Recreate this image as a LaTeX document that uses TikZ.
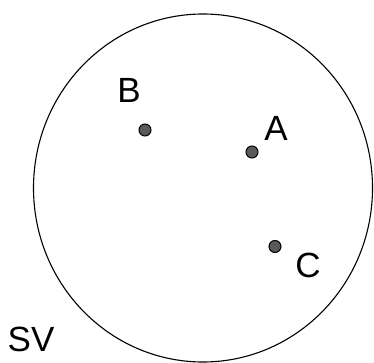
\documentclass[tikz,border=0pt]{standalone}
\usepackage{fontspec}
\setmainfont{Liberation Sans}

\begin{document}
\begin{tikzpicture}[x=1pt, y=-1pt,
  field/.style={black, line width=1.1pt},
  star/.style={circle, fill=black!65, draw=black, line width=1pt, minimum size=12pt, inner sep=0pt},
  lbl/.style={font=\fontsize{35}{35}\selectfont, inner sep=0pt}]
\useasboundingbox (0,0) rectangle (374,363);
% field of view
\draw[field] (203,188) ellipse [x radius=169.5pt, y radius=174pt];
% stars
\foreach \n/\x/\y in {B/145/130,A/252/152,C/275/246.5}{
  \node[star] (\n) at (\x,\y) {};
}
% labels
\node[lbl] (lA) at (276,128) {A};
\node[lbl] (lB) at (129,90) {B};
\node[lbl] (lC) at (308,265) {C};
\node[lbl] (lSV) at (31,339) {SV};
\end{tikzpicture}
\end{document}
